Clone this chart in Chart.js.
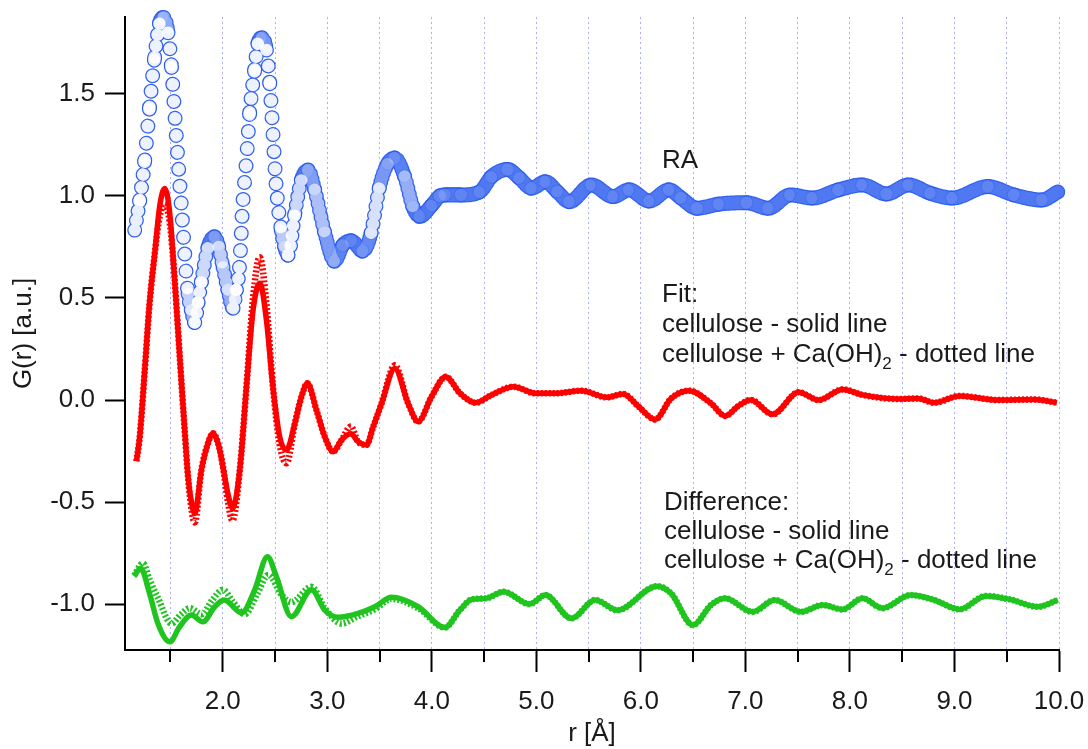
<!DOCTYPE html>
<html>
<head>
<meta charset="utf-8">
<script src="https://cdn.jsdelivr.net/npm/chart.js@4.4.1/dist/chart.umd.min.js"></script>
<style>
  html, body { margin: 0; padding: 0; background: #fff; }
  #wrap { width: 1088px; height: 749px; }
</style>
</head>
<body>
<div id="wrap"><canvas id="chart" width="1088" height="749"></canvas></div>
<script>
// values: r [Å] and G(r) [a.u.]
const raR = [1.158, 1.206, 1.254, 1.30, 1.349, 1.397, 1.435, 1.477, 1.51, 1.54, 1.572, 1.605, 1.636, 1.668, 1.70, 1.732, 1.764, 1.796, 1.86, 1.923, 1.962, 2.003, 2.05, 2.099, 2.13, 2.16, 2.19, 2.227, 2.258, 2.306, 2.338, 2.376, 2.418, 2.45, 2.48, 2.51, 2.56, 2.593, 2.625, 2.69, 2.753, 2.817, 2.88, 2.976, 3.07, 3.15, 3.23, 3.34, 3.42, 3.50, 3.58, 3.646, 3.74, 3.82, 3.885, 4.0, 4.077, 4.124, 4.28, 4.458, 4.572, 4.725, 4.84, 4.954, 5.087, 5.202, 5.316, 5.526, 5.736, 5.888, 6.08, 6.27, 6.384, 6.536, 6.746, 7.01, 7.22, 7.43, 7.64, 7.89, 8.12, 8.35, 8.56, 8.77, 8.98, 9.32, 9.57, 9.836, 9.99];
const raG = [0.833, 0.98, 1.176, 1.436, 1.68, 1.85, 1.875, 1.80, 1.63, 1.41, 1.176, 0.946, 0.72, 0.52, 0.44, 0.38, 0.48, 0.58, 0.75, 0.80, 0.75, 0.65, 0.54, 0.45, 0.54, 0.65, 0.946, 1.176, 1.41, 1.62, 1.75, 1.775, 1.715, 1.55, 1.31, 1.06, 0.83, 0.75, 0.71, 0.915, 1.08, 1.127, 1.03, 0.82, 0.68, 0.76, 0.78, 0.73, 0.82, 1.045, 1.16, 1.186, 1.095, 0.946, 0.90, 0.955, 1.0, 1.005, 1.005, 1.02, 1.095, 1.13, 1.087, 1.038, 1.07, 1.02, 0.972, 1.054, 0.997, 1.03, 0.975, 1.03, 0.99, 0.94, 0.96, 0.967, 0.94, 1.005, 0.99, 1.03, 1.054, 1.01, 1.054, 1.013, 0.99, 1.046, 1.005, 0.98, 1.02];

const fitR = [1.174, 1.206, 1.254, 1.30, 1.35, 1.397, 1.445, 1.493, 1.54, 1.589, 1.636, 1.668, 1.70, 1.732, 1.796, 1.86, 1.907, 1.96, 2.003, 2.05, 2.093, 2.163, 2.227, 2.29, 2.354, 2.418, 2.48, 2.545, 2.61, 2.69, 2.753, 2.81, 2.897, 2.976, 3.056, 3.136, 3.225, 3.295, 3.375, 3.44, 3.52, 3.646, 3.773, 3.869, 3.997, 4.134, 4.268, 4.42, 4.572, 4.782, 4.992, 5.183, 5.43, 5.678, 5.83, 5.98, 6.136, 6.29, 6.46, 6.67, 6.807, 6.93, 7.052, 7.26, 7.51, 7.70, 7.93, 8.12, 8.46, 8.65, 8.806, 9.05, 9.42, 9.76, 9.98];
const fitSolid = [-0.30, -0.18, 0.147, 0.475, 0.72, 0.95, 1.037, 0.915, 0.59, 0.21, -0.147, -0.376, -0.50, -0.555, -0.343, -0.21, -0.163, -0.22, -0.33, -0.46, -0.53, -0.343, 0.065, 0.44, 0.572, 0.392, 0.065, -0.18, -0.245, -0.114, 0.016, 0.082, -0.05, -0.18, -0.253, -0.196, -0.165, -0.204, -0.22, -0.13, -0.016, 0.155, -0.016, -0.106, 0.016, 0.114, 0.034, -0.013, 0.025, 0.065, 0.033, 0.033, 0.046, 0.013, 0.03, -0.033, -0.095, 0.008, 0.046, -0.016, -0.078, -0.03, 0.0, -0.07, 0.038, 0.0, 0.052, 0.025, 0.005, 0.008, -0.013, 0.02, 0.0, 0.003, -0.013];
const fitDotted = [-0.30, -0.18, 0.147, 0.475, 0.72, 0.90, 0.96, 0.87, 0.59, 0.21, -0.147, -0.376, -0.53, -0.60, -0.343, -0.21, -0.163, -0.22, -0.33, -0.50, -0.59, -0.343, 0.065, 0.50, 0.70, 0.47, 0.065, -0.22, -0.31, -0.114, 0.016, 0.082, -0.05, -0.18, -0.253, -0.196, -0.13, -0.204, -0.22, -0.13, -0.016, 0.17, -0.016, -0.106, 0.016, 0.114, 0.034, -0.013, 0.025, 0.065, 0.033, 0.033, 0.046, 0.013, 0.03, -0.033, -0.095, 0.008, 0.046, -0.016, -0.078, -0.03, 0.0, -0.07, 0.038, 0.0, 0.052, 0.025, 0.005, 0.008, -0.013, 0.02, 0.0, 0.003, -0.013];

const diffR = [1.151, 1.215, 1.30, 1.38, 1.493, 1.589, 1.70, 1.81, 1.923, 2.013, 2.18, 2.306, 2.428, 2.514, 2.657, 2.849, 2.976, 3.103, 3.295, 3.455, 3.614, 3.869, 4.124, 4.268, 4.382, 4.515, 4.687, 4.935, 5.087, 5.335, 5.564, 5.774, 6.155, 6.29, 6.498, 6.67, 6.804, 7.07, 7.28, 7.53, 7.74, 7.93, 8.12, 8.31, 8.58, 8.806, 9.05, 9.30, 9.53, 9.797, 9.99];
const diffSolid = [-0.863, -0.825, -0.948, -1.095, -1.185, -1.11, -1.054, -1.087, -1.013, -0.98, -1.043, -0.93, -0.768, -0.866, -1.062, -0.93, -1.03, -1.065, -1.046, -1.013, -0.967, -1.013, -1.115, -1.03, -0.977, -0.972, -0.94, -1.0, -0.956, -1.07, -0.98, -1.03, -0.912, -0.948, -1.103, -1.005, -0.972, -1.038, -0.98, -1.038, -1.005, -1.026, -0.972, -1.02, -0.956, -0.98, -1.026, -0.96, -0.977, -1.013, -0.98];
// dotted difference, where it leaves the solid one (it lies on it beyond 4.1 Å)
const diffDotR = [1.151, 1.237, 1.30, 1.38, 1.51, 1.60, 1.684, 1.80, 1.90, 2.0, 2.10, 2.21, 2.33, 2.435, 2.57, 2.657, 2.849, 2.976, 3.136, 3.29, 3.455, 3.614, 3.869, 4.124];
const diffDotG = [-0.86, -0.80, -0.88, -0.97, -1.095, -1.05, -1.02, -1.05, -0.98, -0.93, -0.99, -1.05, -0.95, -0.857, -0.96, -0.99, -0.915, -1.02, -1.095, -1.06, -1.025, -0.975, -1.02, -1.115];

const xTicks = [1.5, 2.0, 2.5, 3.0, 3.5, 4.0, 4.5, 5.0, 5.5, 6.0, 6.5, 7.0, 7.5, 8.0, 8.5, 9.0, 9.5, 10.0];
const yTicks = [-1.0, -0.5, 0.0, 0.5, 1.0, 1.5];

const FONT = '"Liberation Sans", Arial, sans-serif';
const pts = (xs, ys) => xs.map((x, i) => ({ x: x, y: ys[i] }));

const tailR = diffR.filter(r => r > 4.124);
const tailG = diffSolid.slice(diffR.length - tailR.length);

// RA markers are open circles sampled evenly in r, so along the curve
// they crowd where it is flat and spread out where it is steep
const ringGap = c => {
  const dx = Math.abs(c.p1.x - c.p0.x) || 0.1;
  const dy = c.p1.y - c.p0.y;
  return Math.min(17, Math.max(1.6, 1.6 * Math.hypot(dx, dy) / dx));
};
const ringFill = c => {
  const a = Math.min(0.92, Math.max(0.15, (ringGap(c) - 1.6) / 9));
  return 'rgba(255,255,255,' + a.toFixed(2) + ')';
};

// shorter ticks at the half steps
const minorTicks = {
  id: 'minorTicks',
  afterDraw(chart) {
    const xs = chart.scales.x;
    const ctx = chart.ctx;
    ctx.save();
    ctx.strokeStyle = '#000';
    ctx.lineWidth = 2;
    xs.ticks.forEach(t => {
      if (Number.isInteger(t.value)) return;
      const px = Math.round(xs.getPixelForValue(t.value));
      ctx.beginPath();
      ctx.moveTo(px, xs.top);
      ctx.lineTo(px, xs.top + 12);
      ctx.stroke();
    });
    ctx.restore();
  }
};

// text labels inside the plot
const notes = {
  id: 'notes',
  afterDatasetsDraw(chart) {
    const ctx = chart.ctx;
    const put = (parts, x, y) => {
      parts.forEach(p => {
        ctx.font = (p.sub ? '17px ' : '26px ') + FONT;
        ctx.fillText(p.t, x, p.sub ? y + 7 : y);
        x += ctx.measureText(p.t).width;
      });
    };
    const ca = [{ t: 'cellulose + Ca(OH)' }, { t: '2', sub: true }, { t: ' - dotted line' }];
    ctx.save();
    ctx.fillStyle = '#1a1a1a';
    put([{ t: 'RA' }], 662, 168);
    put([{ t: 'Fit:' }], 662, 302);
    put([{ t: 'cellulose - solid line' }], 662, 332);
    put(ca, 662, 362);
    put([{ t: 'Difference:' }], 664, 510);
    put([{ t: 'cellulose - solid line' }], 664, 539);
    put(ca, 664, 568);
    ctx.restore();
  }
};

Chart.defaults.font.family = FONT;
Chart.defaults.color = '#1a1a1a';

new Chart(document.getElementById('chart').getContext('2d'), {
  type: 'scatter',
  data: {
    datasets: [
      {
        label: 'Fit cellulose',
        data: pts(fitR, fitSolid),
        showLine: true,
        borderColor: '#ff0000',
        borderWidth: 5.5,
        pointRadius: 0,
        cubicInterpolationMode: 'monotone'
      },
      {
        label: 'Fit cellulose + Ca(OH)2',
        data: pts(fitR, fitDotted),
        showLine: true,
        borderColor: '#ff0000',
        borderWidth: 6.5,
        borderDash: [2, 2],
        pointRadius: 0,
        cubicInterpolationMode: 'monotone'
      },
      {
        label: 'Difference cellulose',
        data: pts(diffR, diffSolid),
        showLine: true,
        borderColor: '#1fc41f',
        borderWidth: 5.5,
        pointRadius: 0,
        cubicInterpolationMode: 'monotone'
      },
      {
        label: 'Difference cellulose + Ca(OH)2',
        data: pts(diffDotR.concat(tailR), diffDotG.concat(tailG)),
        showLine: true,
        borderColor: '#1fc41f',
        borderWidth: 6.5,
        borderDash: [2, 2],
        pointRadius: 0,
        cubicInterpolationMode: 'monotone'
      },
      {
        label: 'RA ring centres',
        data: pts(raR, raG),
        showLine: true,
        clip: 10,
        borderColor: '#fff',
        borderWidth: 12.5,
        borderCapStyle: 'round',
        pointRadius: 0,
        cubicInterpolationMode: 'monotone',
        segment: {
          borderDash: c => [0.01, ringGap(c)],
          borderColor: ringFill
        }
      },
      {
        label: 'RA',
        data: pts(raR, raG),
        showLine: true,
        clip: 10,
        borderColor: 'rgba(38,88,238,0.95)',
        borderWidth: 15,
        borderCapStyle: 'round',
        pointRadius: 0,
        cubicInterpolationMode: 'monotone',
        segment: {
          borderDash: c => [0.01, ringGap(c)]
        }
      }
    ]
  },
  options: {
    responsive: false,
    animation: false,
    layout: { padding: { top: 17, right: 29, left: 0, bottom: 0 } },
    plugins: {
      legend: { display: false },
      tooltip: { enabled: false }
    },
    scales: {
      x: {
        type: 'linear',
        min: 1.065,
        max: 10.0,
        afterBuildTicks: s => { s.ticks = xTicks.map(v => ({ value: v })); },
        afterFit: s => { s.height = 99; s.paddingLeft = 0; s.paddingRight = 0; },
        ticks: {
          autoSkip: false,
          maxRotation: 0,
          padding: 14,
          color: '#1a1a1a',
          font: { size: 26 },
          callback: v => Number.isInteger(v) ? v.toFixed(1) : ''
        },
        grid: {
          color: 'rgba(120,120,255,0.6)',
          lineWidth: 1,
          tickLength: 22,
          tickColor: '#000',
          tickWidth: c => Number.isInteger(c.tick.value) ? 2 : 0
        },
        border: { color: '#000', width: 2, dash: [2, 3] },
        title: {
          display: true,
          text: 'r [Å]',
          font: { size: 26 },
          color: '#1a1a1a',
          padding: { top: 0, bottom: 0 }
        }
      },
      y: {
        type: 'linear',
        min: -1.225,
        max: 1.877,
        afterBuildTicks: s => { s.ticks = yTicks.map(v => ({ value: v })); },
        afterFit: s => { s.width = 125; s.paddingTop = 0; s.paddingBottom = 0; },
        ticks: {
          padding: 10,
          color: '#1a1a1a',
          font: { size: 26 },
          callback: v => v.toFixed(1)
        },
        grid: {
          drawOnChartArea: false,
          tickLength: 20,
          tickWidth: 2,
          tickColor: '#000'
        },
        border: { color: '#000', width: 2 },
        title: {
          display: true,
          text: 'G(r) [a.u.]',
          font: { size: 26 },
          color: '#1a1a1a',
          padding: { top: 8, bottom: 0 }
        }
      }
    }
  },
  plugins: [minorTicks, notes]
});
</script>
</body>
</html>
